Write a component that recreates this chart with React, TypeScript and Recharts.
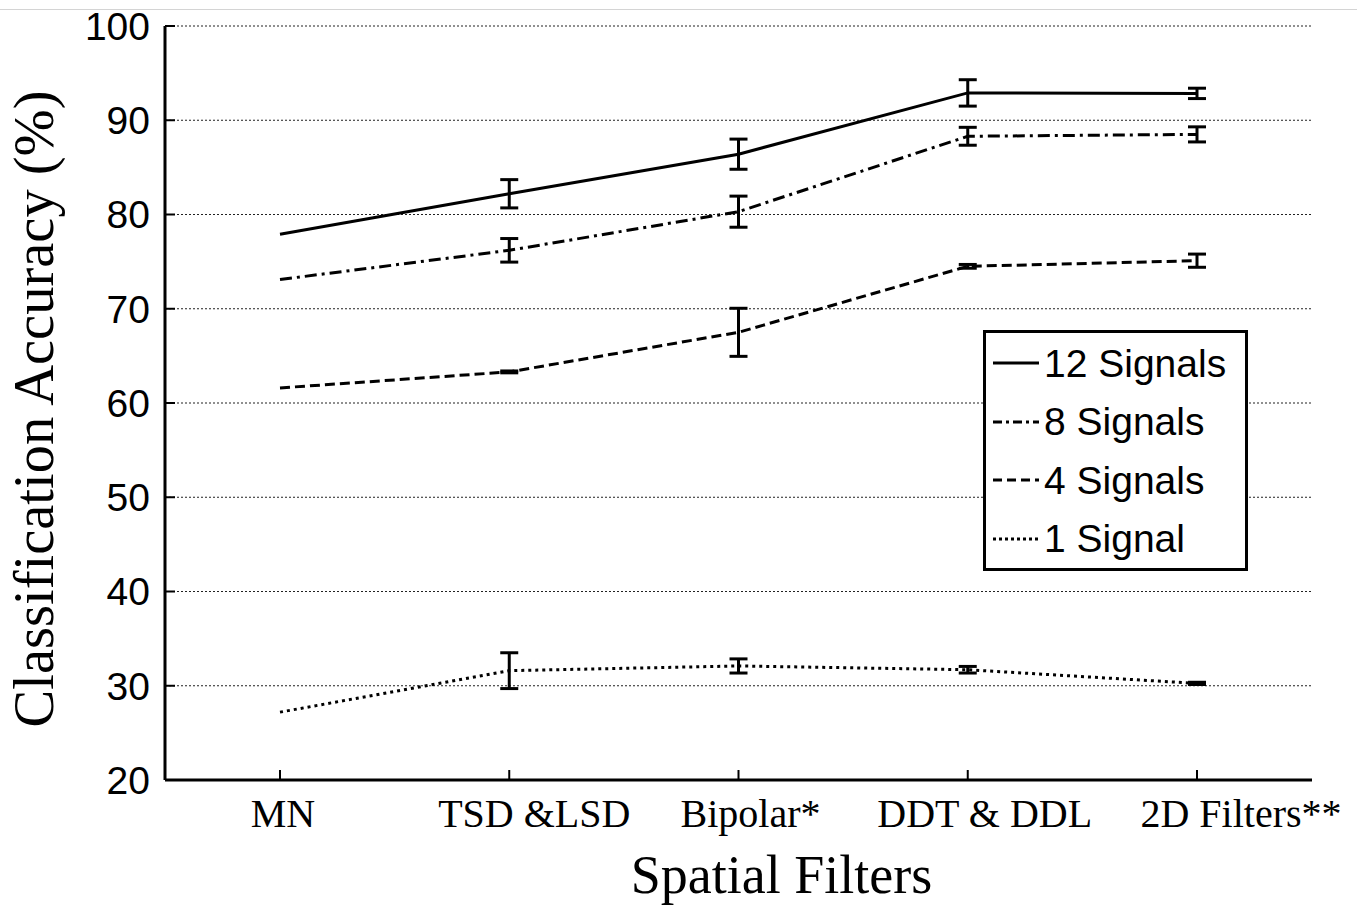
import React from "react";
import {
  LineChart,
  Line,
  XAxis,
  YAxis,
  CartesianGrid,
  ErrorBar,
  Legend,
  Label,
} from "recharts";

const filters = ["MN", "TSD &LSD", "Bipolar*", "DDT & DDL", "2D Filters**"];

const signals12 = [77.9, 82.2, 86.4, 92.9, 92.85];
const err12 = [0, 1.5, 1.6, 1.4, 0.55];
const signals8 = [73.1, 76.2, 80.3, 88.3, 88.5];
const err8 = [0, 1.25, 1.65, 0.95, 0.8];
const signals4 = [61.6, 63.3, 67.5, 74.5, 75.1];
const err4 = [0, 0.1, 2.55, 0.2, 0.7];
const signals1 = [27.2, 31.6, 32.1, 31.7, 30.25];
const err1 = [0, 1.9, 0.75, 0.35, 0.12];

const yTicks = [20, 30, 40, 50, 60, 70, 80, 90, 100];

const SERIF = '"Liberation Serif", "Times New Roman", serif';
const SANS = '"Liberation Sans", Arial, sans-serif';

// the source figure's category labels sit a little right of their ticks
const labelShift: Record<string, number> = {
  MN: 3,
  "TSD &LSD": 25,
  "Bipolar*": 12,
  "DDT & DDL": 17,
  "2D Filters**": 44,
};

const series = [
  { key: "s12", err: "e12", name: "12 Signals", dash: undefined, legendDash: undefined },
  { key: "s8", err: "e8", name: "8 Signals", dash: "12 5 3 5", legendDash: "9 4 3 4" },
  { key: "s4", err: "e4", name: "4 Signals", dash: "10 5", legendDash: "9 5" },
  { key: "s1", err: "e1", name: "1 Signal", dash: "3 4", legendDash: "3 3" },
];

const data = filters.map((f, i) => ({
  filter: f,
  s12: signals12[i],
  e12: err12[i],
  s8: signals8[i],
  e8: err8[i],
  s4: signals4[i],
  e4: err4[i],
  s1: signals1[i],
  e1: err1[i],
}));

const XTick = (props: any) => {
  const { x, y, payload } = props;
  const dx = labelShift[payload.value] ?? 0;
  return (
    <text
      x={x + dx}
      y={y}
      dy="0.71em"
      textAnchor="middle"
      fontFamily={SERIF}
      fontSize={40}
      fill="#000"
    >
      {payload.value}
    </text>
  );
};

const YTitle = (props: any) => {
  const vb = props.viewBox;
  const x = 53;
  const y = vb.y + vb.height / 2 + 6;
  return (
    <text
      x={x}
      y={y}
      transform={`rotate(-90 ${x} ${y})`}
      textAnchor="middle"
      fontFamily={SERIF}
      fontSize={56.5}
      fill="#000"
    >
      Classification Accuracy (%)
    </text>
  );
};

const XTitle = (props: any) => {
  const vb = props.viewBox;
  const x = vb.x + vb.width / 2 + 43;
  return (
    <text x={x} y={893} textAnchor="middle" fontFamily={SERIF} fontSize={54} fill="#000">
      Spatial Filters
    </text>
  );
};

const renderLegend = () => (
  <div
    style={{
      border: "3px solid #000",
      background: "#fff",
      boxSizing: "border-box",
      width: 265,
      height: 241,
      paddingTop: 1,
    }}
  >
    {series.map((s) => (
      <div
        key={s.key}
        style={{ display: "flex", alignItems: "center", height: 58.5, paddingLeft: 7 }}
      >
        <svg width={46} height={10} style={{ marginRight: 5 }}>
          <line
            x1={0}
            y1={5}
            x2={46}
            y2={5}
            stroke="#000"
            strokeWidth={3}
            strokeDasharray={s.legendDash}
          />
        </svg>
        <span style={{ fontFamily: SANS, fontSize: 39, color: "#000", lineHeight: 1 }}>
          {s.name}
        </span>
      </div>
    ))}
  </div>
);

export default function App() {
  return (
    <div style={{ position: "absolute", left: 0, top: 0, width: 1357, height: 906, background: "#fff" }}>
      <div
        style={{ position: "absolute", left: 0, top: 9, width: 1357, height: 0, borderTop: "1px solid #d4d4d4" }}
      />
      <LineChart
        width={1357}
        height={906}
        data={data}
        margin={{ top: 26, right: 45, bottom: 0, left: 0 }}
      >
        <CartesianGrid vertical={false} stroke="#222" strokeDasharray="2 2" strokeWidth={1.2} />
        <XAxis
          dataKey="filter"
          height={126}
          padding={{ left: 115, right: 115 }}
          axisLine={{ stroke: "#000", strokeWidth: 3 }}
          tickLine={{ stroke: "#000", strokeWidth: 2 }}
          tickSize={-10}
          tickMargin={29}
          interval={0}
          tick={<XTick />}
        >
          <Label content={XTitle} />
        </XAxis>
        <YAxis
          width={165}
          domain={[20, 100]}
          ticks={yTicks}
          interval={0}
          axisLine={{ stroke: "#000", strokeWidth: 3 }}
          tickLine={{ stroke: "#000", strokeWidth: 2 }}
          tickSize={-10}
          tickMargin={25}
          tick={{ fontFamily: SANS, fontSize: 39, fill: "#000" }}
        >
          <Label content={YTitle} />
        </YAxis>
        <Legend
          layout="vertical"
          align="center"
          verticalAlign="middle"
          content={renderLegend}
          wrapperStyle={{ position: "absolute", left: 983, top: 330, width: 265, height: 241 }}
        />
        {series.map((s) => (
          <Line
            key={s.key}
            dataKey={s.key}
            name={s.name}
            type="linear"
            stroke="#000"
            strokeWidth={3}
            strokeDasharray={s.dash}
            dot={false}
            activeDot={false}
            isAnimationActive={false}
          >
            <ErrorBar
              dataKey={s.err}
              direction="y"
              width={9}
              stroke="#000"
              strokeWidth={3}
              isAnimationActive={false}
            />
          </Line>
        ))}
      </LineChart>
    </div>
  );
}
